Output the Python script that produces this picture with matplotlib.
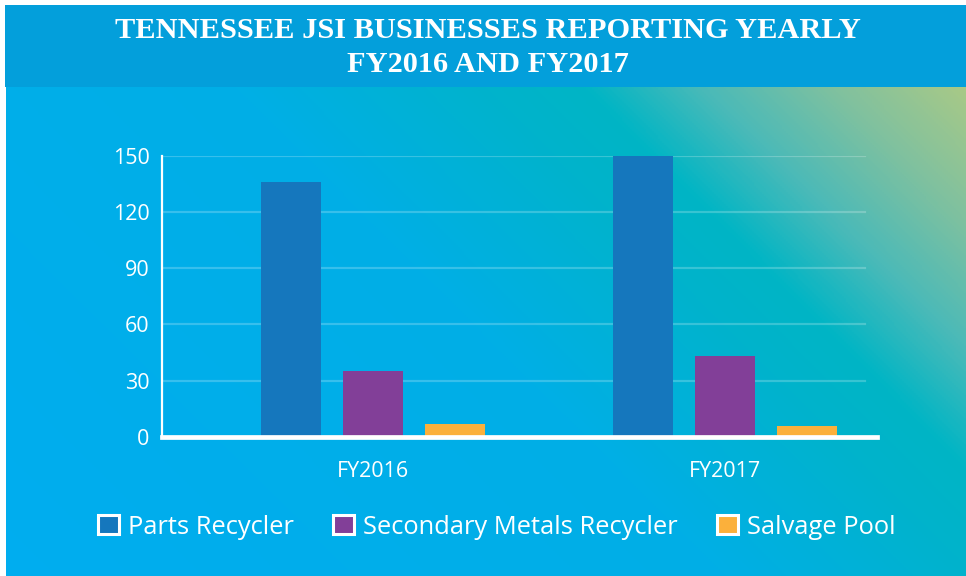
import matplotlib
matplotlib.use('Agg')
import matplotlib.pyplot as plt
import numpy as np
from matplotlib.colors import LinearSegmentedColormap
from matplotlib.patches import Rectangle, Patch
from matplotlib.font_manager import FontProperties

# ---------------- data ----------------
categories = ['FY2016', 'FY2017']
series_names = ['Parts Recycler', 'Secondary Metals Recycler', 'Salvage Pool']
parts_recycler = [136, 150]
secondary_metals = [35, 43]
salvage_pool = [7, 6]
yticks = [0, 30, 60, 90, 120, 150]
title_lines = ['TENNESSEE JSI BUSINESSES REPORTING YEARLY', 'FY2016 AND FY2017']

series_values = [parts_recycler, secondary_metals, salvage_pool]
colors = ['#1577bd', '#823f98', '#fbb03b']

W, H = 966, 576
fig = plt.figure(figsize=(W / 100, H / 100), dpi=100)
fig.patch.set_facecolor('white')

# ---------------- background gradient ----------------
bg = fig.add_axes([6 / W, 0, 1 - 6 / W, (H - 5) / H])
xs = np.linspace(6, W, 480)
ys = np.linspace(5, H, 290)
X, Y = np.meshgrid(xs, ys)
T = X - Y
stops = [(-600, '#00adf0'), (150, '#00afe6'), (400, '#00b3cc'), (500, '#00b5c5'),
         (620, '#4bbab8'), (750, '#80c19f'), (880, '#a8c987'), (961, '#aaca85')]
tmin, tmax = stops[0][0], stops[-1][0]
cmap = LinearSegmentedColormap.from_list('bg', [((t - tmin) / (tmax - tmin), c) for t, c in stops])
bg.imshow(T, cmap=cmap, vmin=tmin, vmax=tmax, aspect='auto', extent=[0, 1, 0, 1], origin='upper')
bg.set_axis_off()

# ---------------- banner + title ----------------
fig.patches.append(Rectangle((5 / W, (H - 87) / H), 1, 82 / H, transform=fig.transFigure,
                             facecolor='#039fdb', edgecolor='none', zorder=1))
title_font = dict(family='Liberation Serif', weight='bold', color='white')
t1 = fig.text(488 / W, 1 - 31 / H, title_lines[0], ha='center', va='center', fontsize=20, zorder=3, **title_font)
t2 = fig.text(488 / W, 1 - 64 / H, title_lines[1], ha='center', va='center', fontsize=20, zorder=3, **title_font)
fig.canvas.draw()
r = fig.canvas.get_renderer()
w1 = t1.get_window_extent(r).width
fs = 20 * 742 / w1
t1.set_fontsize(fs)
t2.set_fontsize(fs)

# ---------------- main axes ----------------
ax = fig.add_axes([162 / W, (H - 437) / H, (877 - 162) / W, (437 - 155.5) / H])
ax.set_facecolor('none')
px_per_unit = 352
c0 = 373
ax.set_xlim((162 - c0) / px_per_unit, (877 - c0) / px_per_unit)
ax.set_ylim(0, 150)

x = np.arange(len(categories))
offsets = [-0.232, 0.0, 0.232]
bar_w = 0.171
for vals, off, col, name in zip(series_values, offsets, colors, series_names):
    ax.bar(x + off, vals, width=bar_w, color=col, zorder=2, label=name)

grid_xmax = (865 - 162) / (877 - 162)
for v in yticks[1:]:
    ax.axhline(v, xmin=0, xmax=grid_xmax, color='white', alpha=0.22, lw=1.6, zorder=1)

for s in ['top', 'right']:
    ax.spines[s].set_visible(False)
ax.spines['left'].set_color('white')
ax.spines['left'].set_linewidth(1.6)
ax.spines['bottom'].set_color('white')
ax.spines['bottom'].set_linewidth(3.4)
ax.spines['bottom'].set_zorder(3)

tick_font = FontProperties(family='Open Sans', size=15.5)
ax.set_yticks(yticks)
ax.set_yticklabels([str(v) for v in yticks], fontproperties=tick_font, color='white')
ax.set_xticks(x)
ax.set_xticklabels(categories, fontproperties=tick_font, color='white')
ax.tick_params(axis='y', length=0, pad=9)
ax.tick_params(axis='x', length=0, pad=17)

# ---------------- legend ----------------
handles = [Patch(facecolor=c, edgecolor='white', linewidth=2.2) for c in colors]
leg_font = FontProperties(family='Open Sans', size=18.4)
fig.legend(handles, series_names, loc='center', bbox_to_anchor=(496.5 / W, 1 - 527 / H),
           ncol=3, frameon=False, prop=leg_font, labelcolor='white',
           handlelength=0.82, handleheight=0.78, handletextpad=0.34, columnspacing=1.55)

fig.savefig('out.png', dpi=100, facecolor='white')
